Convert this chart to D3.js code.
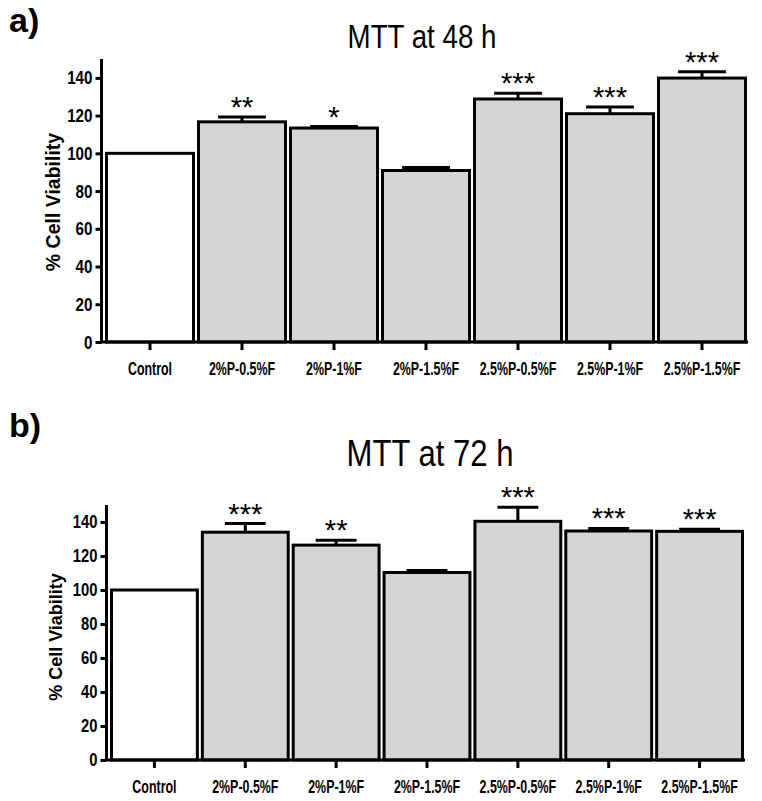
<!DOCTYPE html>
<html>
<head>
<meta charset="utf-8">
<script src="https://cdnjs.cloudflare.com/ajax/libs/d3/7.8.5/d3.min.js"></script>
<style>
  html, body { margin: 0; padding: 0; background: #fff; }
  svg { display: block; }
</style>
</head>
<body>
<svg id="chart" width="762" height="801"></svg>
<script>
const categories = ["Control", "2%P-0.5%F", "2%P-1%F", "2%P-1.5%F", "2.5%P-0.5%F", "2.5%P-1%F", "2.5%P-1.5%F"];
const mean48 = [100, 116.7, 113.4, 90.9, 128.8, 121.0, 139.9];
const err48  = [0, 2.5, 0.8, 1.6, 3.1, 3.5, 3.3];
const stars48 = ["", "**", "*", "", "***", "***", "***"];
const mean72 = [100, 134.0, 126.4, 110.3, 140.4, 134.7, 134.5];
const err72  = [0, 5.1, 2.9, 1.2, 8.3, 1.5, 1.2];
const stars72 = ["", "***", "**", "", "***", "***", "***"];
const yTicks = [0, 20, 40, 60, 80, 100, 120, 140];
const yMax = 150;
const yLabel = "% Cell Viability";
const titles = ["MTT at 48 h", "MTT at 72 h"];
const panelLabels = ["a)", "b)"];

const SANS = "'Liberation Sans', Arial, sans-serif";

const svg = d3.select("#chart");

// squeeze text horizontally (about its own x anchor) to mimic a condensed face
function condense(sel, factor) {
  sel.each(function () {
    const el = d3.select(this);
    const x0 = +el.attr("x") || 0;
    const y0 = +el.attr("y") || 0;
    el.attr("x", 0).attr("y", 0)
      .attr("transform", `translate(${x0},${y0}) scale(${factor},1)`);
  });
}

function drawPanel(cfg) {
  const g = svg.append("g");
  const x = d3.scaleBand().domain(categories).range([cfg.x0, cfg.x1]).paddingInner(0).paddingOuter(0);
  const y = d3.scaleLinear().domain([0, yMax]).range([cfg.y0, cfg.y1]);
  const data = categories.map((c, i) => ({ c, v: cfg.mean[i], e: cfg.err[i], s: cfg.stars[i], i }));
  const inset = 2.5;
  const axisX = cfg.x0 - 2.5;
  const cx = d => x(d.c) + x.bandwidth() / 2;

  // bars
  g.selectAll("rect.bar").data(data).join("rect")
    .attr("class", "bar")
    .attr("x", d => x(d.c) + inset)
    .attr("width", x.bandwidth() - 2 * inset)
    .attr("y", d => y(d.v))
    .attr("height", d => y(0) - y(d.v))
    .attr("fill", d => d.i === 0 ? "#ffffff" : "#d4d4d4")
    .attr("stroke", "#000").attr("stroke-width", 3);

  // error bars
  const capW = x.bandwidth() * cfg.capFrac;
  const eb = g.selectAll("g.err").data(data.filter(d => d.e > 0)).join("g").attr("class", "err");
  eb.append("line")
    .attr("x1", cx).attr("x2", cx)
    .attr("y1", d => y(d.v)).attr("y2", d => y(d.v + d.e))
    .attr("stroke", "#000").attr("stroke-width", 3);
  eb.append("line")
    .attr("x1", d => cx(d) - capW / 2).attr("x2", d => cx(d) + capW / 2)
    .attr("y1", d => y(d.v + d.e)).attr("y2", d => y(d.v + d.e))
    .attr("stroke", "#000").attr("stroke-width", 3);

  // stars
  g.selectAll("text.star").data(data.filter(d => d.s)).join("text")
    .attr("class", "star")
    .attr("x", cx)
    .attr("y", d => y(d.v + d.e) - cfg.starGap)
    .attr("text-anchor", "middle")
    .attr("font-family", SANS).attr("font-size", 29)
    .text(d => d.s);

  // y axis
  const yAxis = g.append("g").attr("transform", `translate(${axisX},0)`)
    .call(d3.axisLeft(y).tickValues(yTicks).tickSize(6).tickPadding(3));
  yAxis.select(".domain").attr("d", `M0,${y(0)}V${y(yMax)}`).attr("stroke-width", 3);
  yAxis.selectAll(".tick line").attr("stroke-width", 3);
  const yt = yAxis.selectAll(".tick text").attr("font-family", SANS).attr("font-weight", "bold")
    .attr("font-size", cfg.tickFont).attr("fill", "#000");
  condense(yt, 0.8);

  // x axis
  const xAxis = g.append("g").attr("transform", `translate(0,${y(0)})`)
    .call(d3.axisBottom(x).tickSize(8).tickPadding(cfg.xPad));
  xAxis.select(".domain").attr("d", `M${axisX - 1.5},0H${cfg.x1}`).attr("stroke-width", 3);
  xAxis.selectAll(".tick line").attr("stroke-width", 3);
  const xt = xAxis.selectAll(".tick text").attr("font-family", SANS).attr("font-weight", "bold")
    .attr("font-size", cfg.xFont).attr("fill", "#000");
  condense(xt, 0.69);

  // y label
  g.append("text")
    .attr("transform", `translate(${cfg.ylx},${cfg.yly}) rotate(-90)`)
    .attr("text-anchor", "middle")
    .attr("font-family", SANS).attr("font-weight", "bold").attr("font-size", cfg.ylFont)
    .text(yLabel);

  // title
  const t = g.append("text")
    .attr("x", cfg.tx).attr("y", cfg.ty)
    .attr("text-anchor", "middle")
    .attr("font-family", SANS).attr("font-size", cfg.tFont)
    .text(cfg.title);
  condense(t, 0.84);

  // panel label
  g.append("text")
    .attr("x", 9).attr("y", cfg.ly)
    .attr("font-family", SANS).attr("font-weight", "bold").attr("font-size", 34)
    .text(cfg.label);
}

drawPanel({
  mean: mean48, err: err48, stars: stars48,
  x0: 104, x1: 748, y0: 342, y1: 59, capFrac: 0.52, starGap: 0,
  tickFont: 19, xFont: 18, xPad: 12.5, ylx: 60, yly: 202, ylFont: 19.5,
  tx: 422, ty: 48, tFont: 33, title: titles[0], ly: 32, label: panelLabels[0]
});
drawPanel({
  mean: mean72, err: err72, stars: stars72,
  x0: 109, x1: 745, y0: 760, y1: 505, capFrac: 0.45, starGap: 0,
  tickFont: 18.5, xFont: 18, xPad: 12, ylx: 62, yly: 637, ylFont: 18,
  tx: 430, ty: 466, tFont: 37, title: titles[1], ly: 437, label: panelLabels[1]
});
</script>
</body>
</html>
